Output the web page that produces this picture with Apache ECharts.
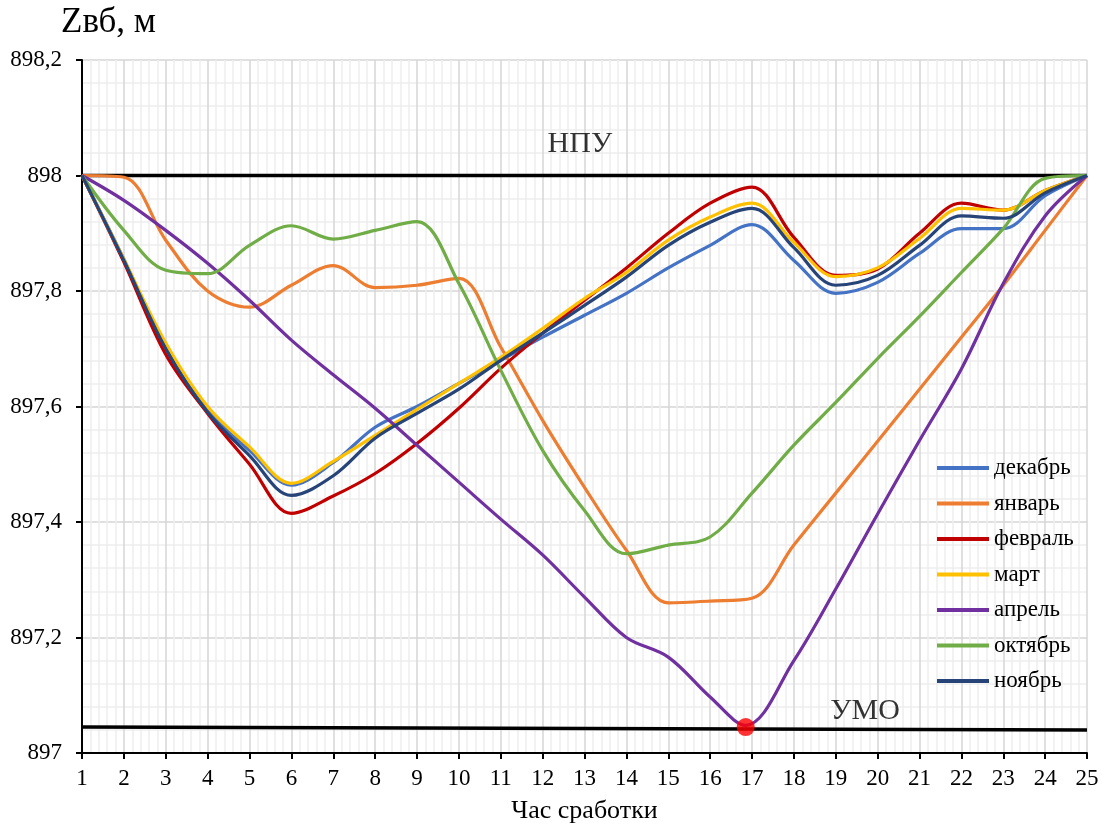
<!DOCTYPE html>
<html><head><meta charset="utf-8">
<script src="https://cdn.jsdelivr.net/npm/echarts@6/dist/echarts.min.js"></script>
<style>html,body{margin:0;padding:0;background:#fff}#c{width:1109px;height:829px}</style>
</head><body><div id="c"></div>
<script>
const hours = [1,2,3,4,5,6,7,8,9,10,11,12,13,14,15,16,17,18,19,20,21,22,23,24,25];
const aprHours = [1,2,3,4,5,6,7,8,9,10,11,12,13,14,15,16,16.85,18,19,20,21,22,23,24,25];
const seriesNames = ['декабрь','январь','февраль','март','апрель','октябрь','ноябрь'];
const dec = [898,897.855,897.70,897.593,897.524,897.464,897.503,897.564,897.60,897.64,897.68,897.72,897.758,897.796,897.84,897.879,897.915,897.853,897.796,897.815,897.865,897.908,897.908,897.965,898];
const jan = [898,897.997,897.888,897.80,897.772,897.81,897.844,897.806,897.81,897.822,897.703,897.576,897.46,897.351,897.26,897.263,897.268,897.36,897.45,897.54,897.63,897.72,897.81,897.905,898];
const feb = [898,897.85,897.69,897.588,897.50,897.415,897.445,897.484,897.536,897.597,897.666,897.727,897.784,897.84,897.90,897.952,897.98,897.893,897.827,897.838,897.90,897.952,897.94,897.974,898];
const mar = [898,897.855,897.71,897.60,897.53,897.467,897.505,897.55,897.595,897.64,897.685,897.735,897.787,897.832,897.888,897.928,897.952,897.884,897.825,897.84,897.891,897.943,897.94,897.974,898];
const apr = [898,897.957,897.905,897.848,897.784,897.715,897.655,897.597,897.533,897.469,897.405,897.343,897.27,897.20,897.166,897.097,897.048,897.16,897.284,897.414,897.541,897.665,897.813,897.93,898];
const oct = [898,897.905,897.836,897.83,897.879,897.913,897.89,897.905,897.92,897.813,897.663,897.524,897.42,897.345,897.36,897.374,897.45,897.533,897.607,897.683,897.756,897.832,897.908,897.995,898];
const nov = [898,897.853,897.70,897.59,897.515,897.446,897.48,897.545,897.588,897.63,897.68,897.727,897.775,897.824,897.879,897.919,897.943,897.875,897.81,897.827,897.879,897.93,897.926,897.97,898];
const npu = [898, 898];
const umo = [897.045, 897.04];
const levelHours = [1, 25];
const critPoint = [16.85, 897.045];
const labelNPU = {text:'НПУ', x:12.89, y:898.055};
const labelUMO = {text:'УМО', x:19.7, y:897.072};
const colors = ['#4472C4','#ED7D31','#C00000','#FFC000','#7030A0','#70AD47','#264478'];

const allData = [dec, jan, feb, mar, apr, oct, nov];
const serif = 'Liberation Serif';
const chart = echarts.init(document.getElementById('c'));
const monthSeries = allData.map((arr, i) => ({
  name: seriesNames[i], type: 'line', smooth: 0.35, showSymbol: false,
  lineStyle: {width: 3.2, color: colors[i]}, itemStyle: {color: colors[i]},
  data: arr.map((v, k) => [(i === 4 ? aprHours : hours)[k], v]), z: 3
}));
chart.setOption({
  animation: false,
  title: {text: 'Zвб, м', left: 56, top: 0, textStyle: {fontFamily: serif, fontSize: 35, fontWeight: 'normal', color: '#000'}},
  grid: {left: 82, right: 22, top: 60, bottom: 63},
  legend: {
    orient: 'vertical', left: 932, top: 451, itemWidth: 52, itemHeight: 4, itemGap: 11.5, icon: 'rect',
    data: seriesNames, textStyle: {fontFamily: serif, fontSize: 23, color: '#000', lineHeight: 24}
  },
  xAxis: {
    type: 'value', min: 1, max: 25, interval: 1,
    name: 'Час сработки', nameLocation: 'middle', nameGap: 45,
    nameTextStyle: {fontFamily: serif, fontSize: 26, color: '#000'},
    axisLine: {onZero: false, lineStyle: {color: '#000', width: 2}},
    axisTick: {show: true, length: 6, lineStyle: {color: '#000', width: 2}},
    axisLabel: {fontFamily: serif, fontSize: 23, color: '#000', margin: 14},
    splitLine: {show: true, lineStyle: {color: '#d6d6d6', width: 1.5}},
    minorTick: {show: true, splitNumber: 5, length: 0},
    minorSplitLine: {show: true, lineStyle: {color: '#eeeeee', width: 1.5}}
  },
  yAxis: {
    type: 'value', min: 897, max: 898.2, interval: 0.2,
    axisLine: {show: true, lineStyle: {color: '#000', width: 2}},
    axisTick: {show: true, length: 6, lineStyle: {color: '#000', width: 2}},
    axisLabel: {fontFamily: serif, fontSize: 23, color: '#000', margin: 20,
      formatter: v => (Math.round(v * 10) / 10).toString().replace('.', ',')},
    splitLine: {show: true, lineStyle: {color: '#d6d6d6', width: 1.5}},
    minorTick: {show: true, splitNumber: 5, length: 0},
    minorSplitLine: {show: true, lineStyle: {color: '#eeeeee', width: 1.5}}
  },
  series: [
    {name: 'НПУ', type: 'line', silent: true, showSymbol: false, lineStyle: {color: '#000', width: 3.5}, z: 2,
     data: levelHours.map((h, k) => [h, npu[k]])},
    {name: 'УМО', type: 'line', silent: true, showSymbol: false, lineStyle: {color: '#000', width: 3.5}, z: 2,
     data: levelHours.map((h, k) => [h, umo[k]])},
    ...monthSeries,
    {name: 'labels', type: 'scatter', silent: true, symbolSize: 0, z: 5,
     label: {show: true, position: 'inside', formatter: p => p.data[2], fontFamily: serif, fontSize: 30, color: '#000'},
     data: [[labelNPU.x, labelNPU.y, labelNPU.text], [labelUMO.x, labelUMO.y, labelUMO.text]]},
    {name: 'crit', type: 'scatter', silent: true, symbolSize: 18, itemStyle: {color: '#FF0000'}, z: 6,
     data: [critPoint]}
  ]
});
</script></body></html>
